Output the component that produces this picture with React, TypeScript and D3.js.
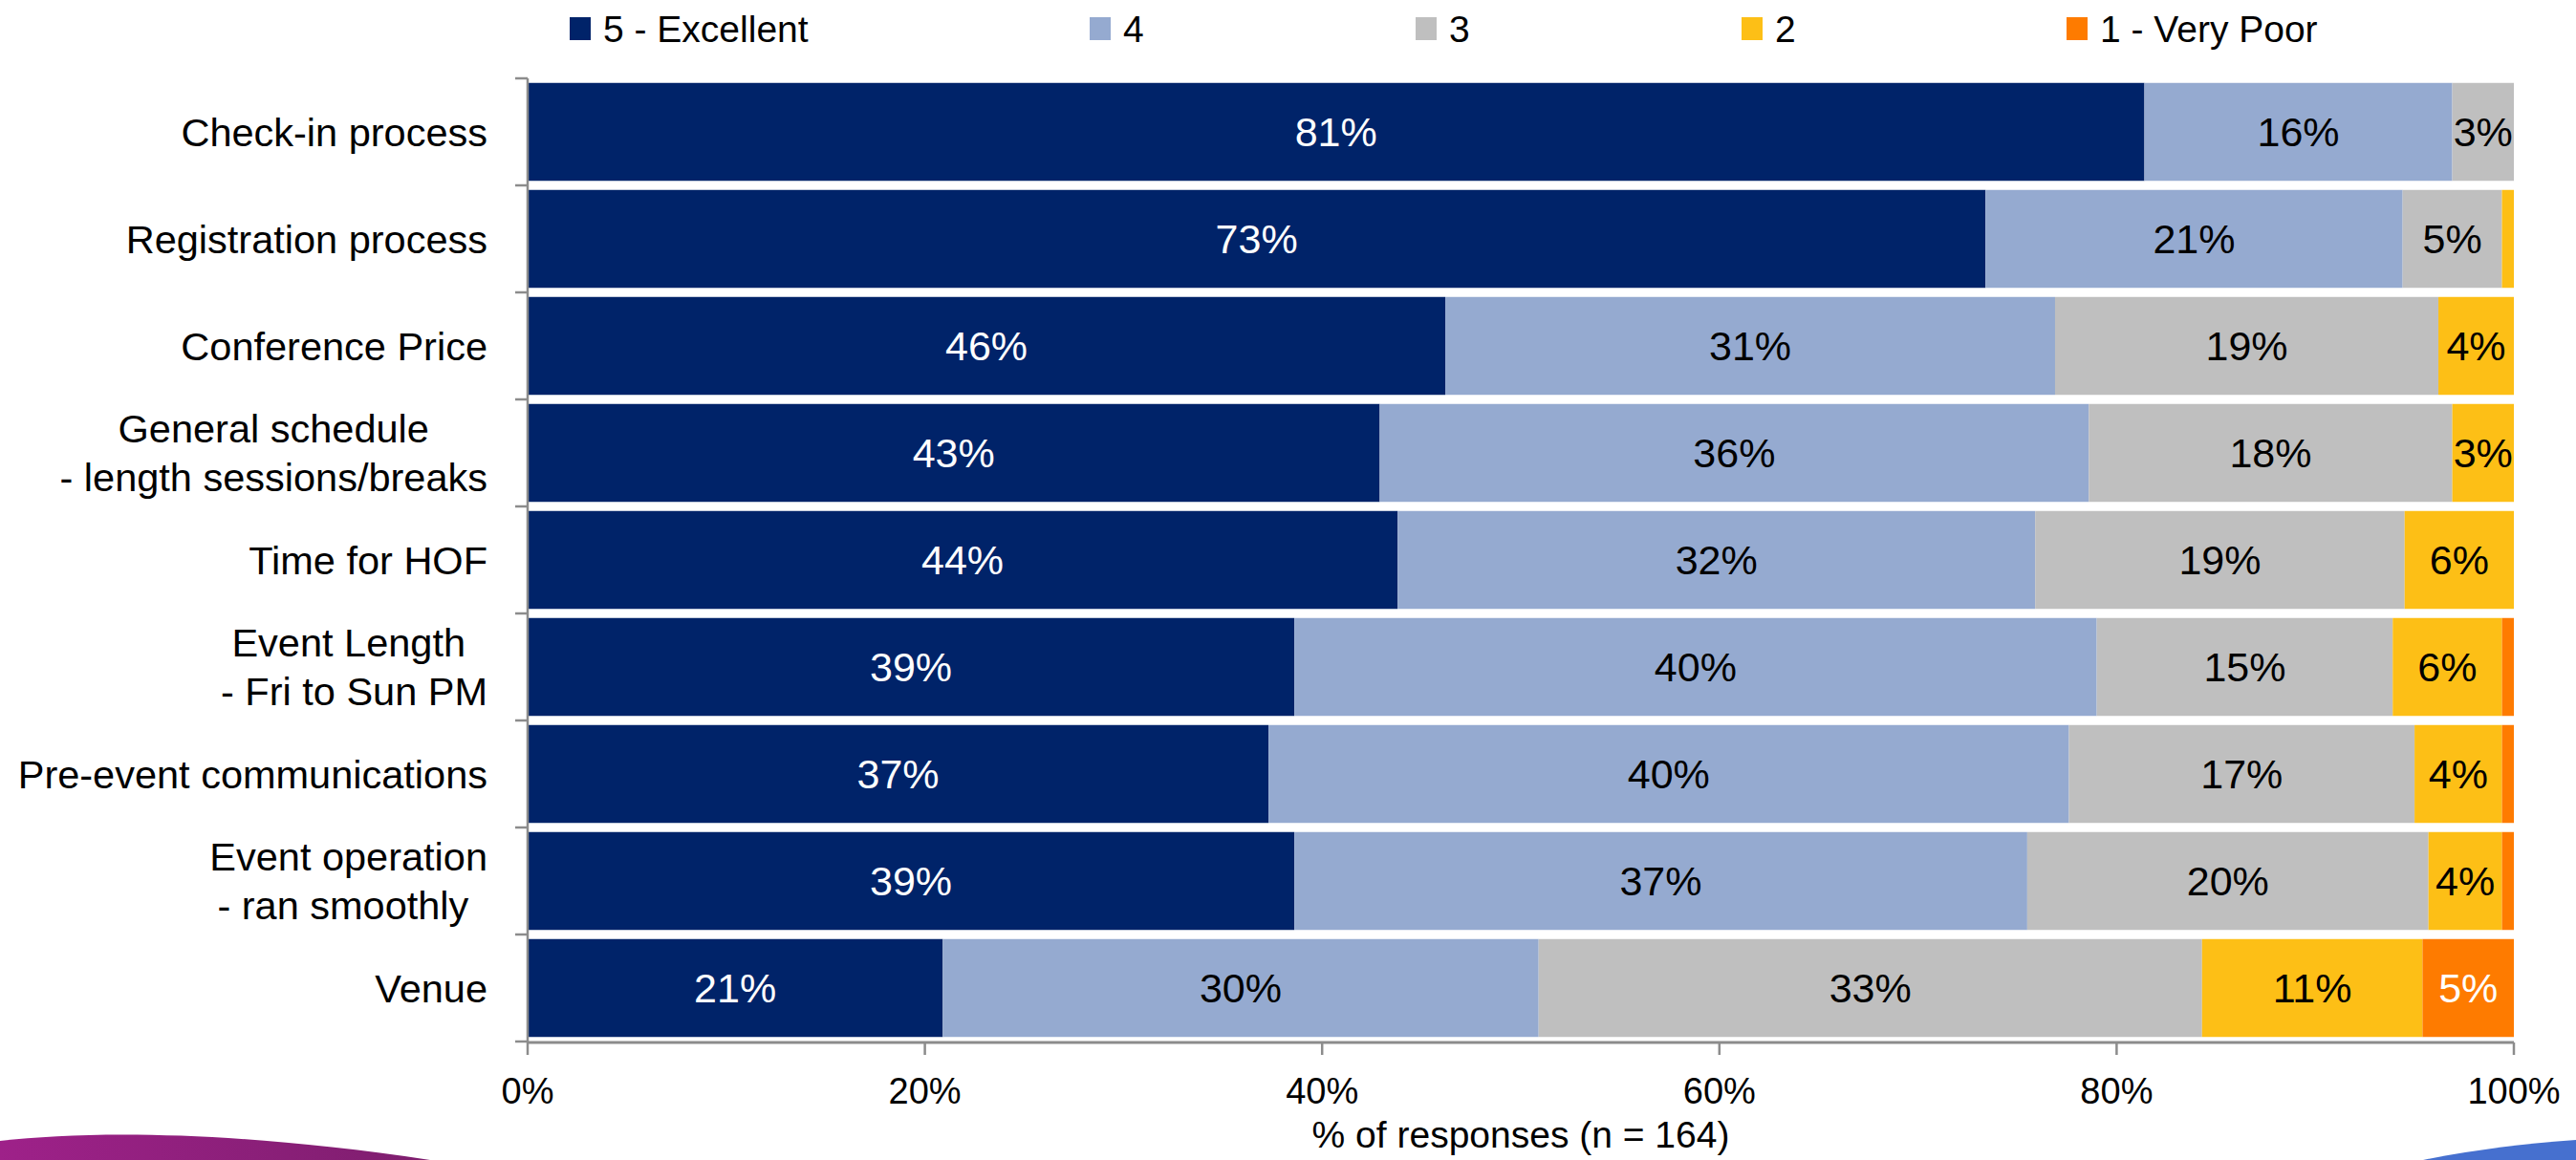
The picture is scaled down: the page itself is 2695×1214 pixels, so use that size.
import React, { useEffect, useRef } from 'react';
import * as d3 from 'd3';

// ---------- data ----------
const categories = [
  'Check-in process',
  'Registration process',
  'Conference Price',
  'General schedule\n- length sessions/breaks',
  'Time for HOF',
  'Event Length \n- Fri to Sun PM',
  'Pre-event communications',
  'Event operation\n- ran smoothly ',
  'Venue',
];
const seriesNames = ['5 - Excellent', '4', '3', '2', '1 - Very Poor'];
const excellent = [81.4, 73.4, 46.2, 42.9, 43.8, 38.6, 37.3, 38.6, 20.9];
const good = [15.5, 21.0, 30.7, 35.7, 32.1, 40.4, 40.3, 36.9, 30.0];
const average = [3.1, 5.0, 19.3, 18.3, 18.6, 14.9, 17.4, 20.2, 33.4];
const poor = [0, 0.6, 3.8, 3.1, 5.5, 5.5, 4.4, 3.7, 11.1];
const veryPoor = [0, 0, 0, 0, 0, 0.6, 0.6, 0.6, 4.6];
const xTicks = [0, 20, 40, 60, 80, 100];
const xTickLabels = ['0%', '20%', '40%', '60%', '80%', '100%'];
const axisTitle = '% of responses (n = 164)';

const colors = ['#002369', '#95AAD0', '#BFBFBF', '#FDBF16', '#FE7B00'];
const labelColors = ['#ffffff', '#000000', '#000000', '#000000', '#ffffff'];

const W = 2695;
const H = 1214;
const FONT = "'Liberation Sans', Arial, sans-serif";

export default function App() {
  const ref = useRef<SVGSVGElement>(null);

  useEffect(() => {
    const svg = d3.select(ref.current as SVGSVGElement);
    svg.selectAll('*').remove();

    const seriesValues = [excellent, good, average, poor, veryPoor];
    const table = categories.map((c, i) => {
      const row: any = { cat: c };
      seriesNames.forEach((s, k) => (row[s] = seriesValues[k][i]));
      return row;
    });
    const stacked = d3.stack<any>().keys(seriesNames)(table);

    const x = d3.scaleLinear().domain([0, 100]).range([552, 2630]);
    const y = d3
      .scaleBand<string>()
      .domain(categories)
      .range([82, 1090])
      .paddingInner(0.085)
      .paddingOuter(0.0425);

    // decorative swooshes
    const defs = svg.append('defs');
    const grad = defs
      .append('linearGradient')
      .attr('id', 'purpleGrad')
      .attr('x1', '0%')
      .attr('x2', '100%');
    grad.append('stop').attr('offset', '0%').attr('stop-color', '#9E2189');
    grad.append('stop').attr('offset', '100%').attr('stop-color', '#7E1E6E');
    svg
      .append('path')
      .attr('d', 'M0,1194 C100,1183 250,1184 450,1214 L0,1214 Z')
      .attr('fill', 'url(#purpleGrad)');
    svg
      .append('path')
      .attr('d', 'M2535,1214 C2590,1203 2640,1197 2695,1193 L2695,1214 Z')
      .attr('fill', '#4670CF');

    // bars
    const g = svg.append('g');
    stacked.forEach((layer, k) => {
      g.append('g')
        .selectAll('rect')
        .data(layer)
        .join('rect')
        .attr('x', (d) => x(d[0]))
        .attr('y', (d) => y(d.data.cat) as number)
        .attr('width', (d) => Math.max(0, x(d[1]) - x(d[0])))
        .attr('height', y.bandwidth())
        .attr('fill', colors[k]);
    });

    // data labels
    stacked.forEach((layer, k) => {
      g.append('g')
        .selectAll('text')
        .data(layer.filter((d) => d[1] - d[0] >= 2))
        .join('text')
        .attr('x', (d) => (x(d[0]) + x(d[1])) / 2)
        .attr('y', (d) => (y(d.data.cat) as number) + y.bandwidth() / 2)
        .attr('dy', '0.36em')
        .attr('text-anchor', 'middle')
        .attr('font-family', FONT)
        .attr('font-size', 43)
        .attr('fill', labelColors[k])
        .text((d) => `${Math.round(d[1] - d[0])}%`);
    });

    // axes
    const axisColor = '#8C8C8C';
    svg
      .append('line')
      .attr('x1', x(0))
      .attr('x2', x(0))
      .attr('y1', 82)
      .attr('y2', 1091)
      .attr('stroke', axisColor)
      .attr('stroke-width', 2.5);
    const bandEdges = categories.map((c) => (y(c) as number) - (y.step() * y.paddingInner()) / 2);
    bandEdges.push(1090);
    svg
      .append('g')
      .selectAll('line')
      .data(bandEdges)
      .join('line')
      .attr('x1', 539)
      .attr('x2', x(0))
      .attr('y1', (d) => d)
      .attr('y2', (d) => d)
      .attr('stroke', axisColor)
      .attr('stroke-width', 2.5);

    svg
      .append('line')
      .attr('x1', x(0))
      .attr('x2', x(100))
      .attr('y1', 1091)
      .attr('y2', 1091)
      .attr('stroke', axisColor)
      .attr('stroke-width', 3);
    svg
      .append('g')
      .selectAll('line')
      .data(xTicks)
      .join('line')
      .attr('x1', (d) => x(d))
      .attr('x2', (d) => x(d))
      .attr('y1', 1091)
      .attr('y2', 1104)
      .attr('stroke', axisColor)
      .attr('stroke-width', 2.5);
    svg
      .append('g')
      .selectAll('text')
      .data(xTicks)
      .join('text')
      .attr('x', (d) => x(d))
      .attr('y', 1141)
      .attr('dy', '0.36em')
      .attr('text-anchor', 'middle')
      .attr('font-family', FONT)
      .attr('font-size', 38)
      .attr('fill', '#000')
      .text((d, i) => xTickLabels[i]);
    svg
      .append('text')
      .attr('x', (x(0) + x(100)) / 2)
      .attr('y', 1187)
      .attr('dy', '0.36em')
      .attr('text-anchor', 'middle')
      .attr('font-family', FONT)
      .attr('font-size', 39)
      .attr('fill', '#000')
      .text(axisTitle);

    // category labels (multi-line blocks centred on their widest line, right aligned)
    const labelRight = 510;
    const lineH = 51;
    categories.forEach((c) => {
      const lines = c.split('\n');
      const cy = (y(c) as number) + y.bandwidth() / 2;
      const grp = svg.append('g');
      const texts = lines.map((ln, i) =>
        grp
          .append('text')
          .attr('y', cy + (i - (lines.length - 1) / 2) * lineH)
          .attr('dy', '0.36em')
          .attr('font-family', FONT)
          .attr('font-size', 41.5)
          .attr('fill', '#000')
          .style('white-space', 'pre')
          .text(ln)
      );
      const widths = texts.map((t) => (t.node() as SVGTextElement).getComputedTextLength());
      const maxW = Math.max(...widths);
      const center = labelRight - maxW / 2;
      texts.forEach((t) => t.attr('x', center).attr('text-anchor', 'middle'));
    });

    // legend
    const legendX = [596, 1140, 1481, 1822, 2162];
    const lg = svg.append('g');
    seriesNames.forEach((s, k) => {
      lg.append('rect')
        .attr('x', legendX[k])
        .attr('y', 18)
        .attr('width', 22)
        .attr('height', 24)
        .attr('fill', colors[k]);
      lg.append('text')
        .attr('x', legendX[k] + 35)
        .attr('y', 30)
        .attr('dy', '0.36em')
        .attr('font-family', FONT)
        .attr('font-size', 39)
        .attr('fill', '#000')
        .text(s);
    });
  }, []);

  return (
    <svg
      ref={ref}
      width={W}
      height={H}
      style={{ position: 'absolute', left: 0, top: 0, display: 'block', background: '#fff' }}
    />
  );
}
